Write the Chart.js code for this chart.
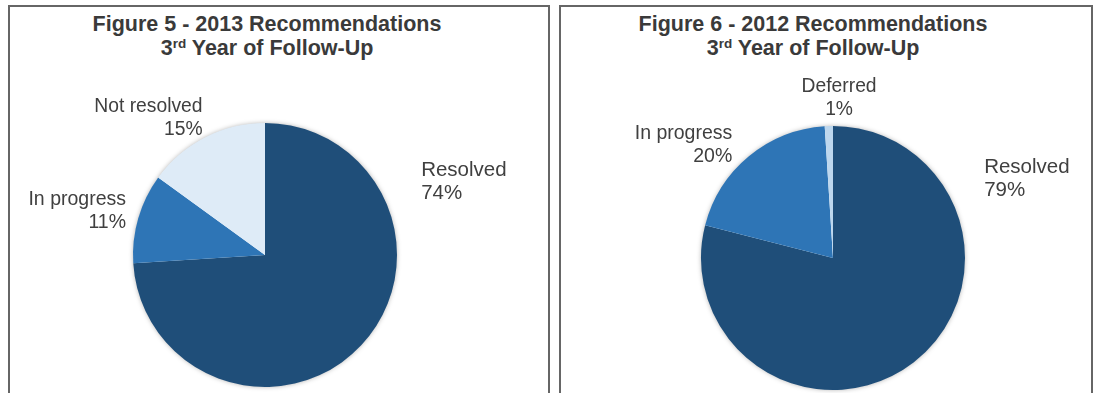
<!DOCTYPE html>
<html>
<head>
<meta charset="utf-8">
<script src="https://cdn.jsdelivr.net/npm/chart.js@4/dist/chart.umd.min.js"></script>
<style>
  html, body { margin: 0; padding: 0; background: #fff; width: 1097px; height: 393px; overflow: hidden; }
  body { position: relative; font-family: "Liberation Sans", Arial, sans-serif; }
  .panel { position: absolute; top: 5px; height: 420px; border: 2px solid #666; box-sizing: border-box; }
  .title { position: absolute; top: 13px; width: 440px; text-align: center; font-weight: bold; font-size: 21.5px; line-height: 23.5px; color: #3a3a3a; }
  .title sup { font-size: 13.5px; vertical-align: 0; position: relative; top: -7px; }
  canvas { position: absolute; top: 0; }
</style>
</head>
<body>
<div class="panel" style="left:8px; width:542px;"></div>
<div class="panel" style="left:559px; width:534px;"></div>
<div class="title" style="left:47px;">Figure 5 - 2013 Recommendations<br>3<sup>rd</sup> Year of Follow-Up</div>
<div class="title" style="left:593px;">Figure 6 - 2012 Recommendations<br>3<sup>rd</sup> Year of Follow-Up</div>
<canvas id="c1" width="554" height="393" style="left:0px;"></canvas>
<canvas id="c2" width="543" height="393" style="left:554px;"></canvas>
<script>
// ---- data ----
const categories2013 = ['Resolved', 'In progress', 'Not resolved'];
const values2013 = [74, 11, 15];
const categories2012 = ['Resolved', 'In progress', 'Deferred'];
const values2012 = [79, 20, 1];
const colors2013 = ['#1F4E79', '#2E75B6', '#DEEBF7'];
const colors2012 = ['#1F4E79', '#2E75B6', '#BDD7EE'];

// ---- label placement (relative to pie centre, in radius units) ----
const layout2013 = [
  { dx: 1.183, dy: -0.645, align: 'left', size: 20.5 },
  { dx: -1.053, dy: -0.416, align: 'right', size: 19.5 },
  { dx: -0.473, dy: -1.126, align: 'right', size: 19.3 }
];
const layout2012 = [
  { dx: 1.145, dy: -0.687, align: 'left', size: 20.5 },
  { dx: -0.763, dy: -0.939, align: 'right', size: 19.5 },
  { dx: 0.046, dy: -1.298, align: 'center', size: 19.3 }
];

const shadowPlugin = {
  id: 'pieShadow',
  beforeDatasetsDraw(chart) {
    const arc = chart.getDatasetMeta(0).data[0];
    if (!arc) return;
    const ctx = chart.ctx;
    ctx.save();
    ctx.shadowColor = 'rgba(0,0,0,0.35)';
    ctx.shadowBlur = 5;
    ctx.fillStyle = '#ffffff';
    ctx.beginPath();
    ctx.arc(arc.x, arc.y, arc.outerRadius - 0.5, 0, Math.PI * 2);
    ctx.fill();
    ctx.restore();
  }
};

const labelPlugin = {
  id: 'sliceLabels',
  afterDatasetsDraw(chart, args, opts) {
    const meta = chart.getDatasetMeta(0);
    const ctx = chart.ctx;
    const labels = chart.data.labels;
    const vals = chart.data.datasets[0].data;
    ctx.save();
    ctx.fillStyle = '#404040';
    ctx.textBaseline = 'middle';
    meta.data.forEach((arc, i) => {
      const l = opts.layout[i];
      const r = arc.outerRadius;
      const x = arc.x + l.dx * r;
      const y = arc.y + l.dy * r;
      ctx.font = l.size + 'px "Liberation Sans", Arial, sans-serif';
      ctx.textAlign = l.align;
      ctx.fillText(labels[i], x, y);
      ctx.fillText(vals[i] + '%', x, y + 23);
    });
    ctx.restore();
  }
};

function makePie(id, labels, values, colors, layout, cx, cy, r, canvasLeft, cw, ch) {
  const lx = cx - canvasLeft;
  return new Chart(document.getElementById(id), {
    type: 'pie',
    data: {
      labels: labels,
      datasets: [{ data: values, backgroundColor: colors, borderWidth: 0 }]
    },
    options: {
      responsive: false,
      animation: false,
      events: [],
      layout: {
        padding: { left: lx - r, right: cw - (lx + r), top: cy - r, bottom: ch - (cy + r) }
      },
      plugins: {
        legend: { display: false },
        tooltip: { enabled: false },
        title: { display: false },
        sliceLabels: { layout: layout }
      }
    },
    plugins: [shadowPlugin, labelPlugin]
  });
}

makePie('c1', categories2013, values2013, colors2013, layout2013, 265, 255, 132, 0, 554, 393);
makePie('c2', categories2012, values2012, colors2012, layout2012, 833, 258, 132, 554, 543, 393);
</script>
</body>
</html>
